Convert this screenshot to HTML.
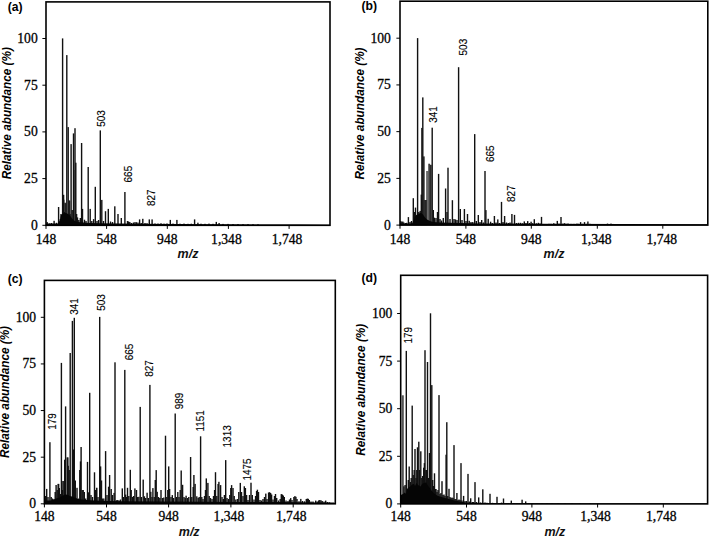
<!DOCTYPE html>
<html><head><meta charset="utf-8"><title>Mass spectra</title>
<style>
html,body{margin:0;padding:0;background:#fff;}
body{width:709px;height:538px;overflow:hidden;}
svg{display:block;}
.tk{font-family:"Liberation Serif",serif;font-size:13.6px;fill:#000;stroke:#000;stroke-width:0.3px;}
.pl{font-family:"Liberation Sans",sans-serif;font-size:12.2px;font-weight:bold;fill:#000;}
.yt{font-family:"Liberation Sans",sans-serif;font-size:13px;font-weight:bold;font-style:italic;fill:#000;}
.mz{font-family:"Liberation Sans",sans-serif;font-size:12.5px;font-weight:bold;font-style:italic;fill:#111;}
.pk{font-family:"Liberation Sans",sans-serif;font-size:10.8px;fill:#000;stroke:#000;stroke-width:0.15px;}
</style></head>
<body>
<svg width="709" height="538" viewBox="0 0 709 538">
<rect width="709" height="538" fill="#fff"/>
<rect x="63.10" y="199.7" width="1.6" height="25.6" fill="#777"/>
<rect x="64.90" y="203.4" width="1.4" height="21.9" fill="#666"/>
<rect x="68.70" y="200.5" width="1.8" height="24.8" fill="#888"/>
<rect x="74.30" y="170.0" width="1.0" height="55.3" fill="#999"/>
<rect x="46.50" y="222.1" width="1.4" height="3.2" fill="#111"/>
<rect x="48.80" y="223.5" width="1.4" height="1.8" fill="#111"/>
<rect x="50.80" y="223.0" width="1.4" height="2.3" fill="#111"/>
<rect x="53.40" y="220.8" width="1.4" height="4.5" fill="#111"/>
<rect x="55.80" y="222.8" width="1.4" height="2.5" fill="#111"/>
<rect x="57.90" y="207.0" width="1.4" height="18.3" fill="#111"/>
<rect x="59.60" y="219.0" width="1.4" height="6.3" fill="#111"/>
<rect x="60.30" y="214.0" width="1.4" height="11.3" fill="#111"/>
<rect x="61.90" y="38.4" width="1.4" height="186.9" fill="#111"/>
<rect x="62.90" y="194.8" width="1.4" height="30.5" fill="#111"/>
<rect x="63.70" y="212.0" width="1.4" height="13.3" fill="#111"/>
<rect x="64.40" y="202.7" width="1.4" height="22.6" fill="#111"/>
<rect x="66.10" y="55.1" width="1.4" height="170.2" fill="#111"/>
<rect x="67.50" y="127.1" width="1.4" height="98.2" fill="#111"/>
<rect x="68.50" y="200.5" width="1.4" height="24.8" fill="#111"/>
<rect x="69.30" y="214.0" width="1.4" height="11.3" fill="#111"/>
<rect x="70.40" y="144.1" width="1.4" height="81.2" fill="#111"/>
<rect x="71.50" y="210.0" width="1.4" height="15.3" fill="#111"/>
<rect x="72.80" y="133.4" width="1.4" height="91.9" fill="#111"/>
<rect x="74.30" y="128.2" width="1.4" height="97.1" fill="#111"/>
<rect x="75.10" y="162.7" width="1.4" height="62.6" fill="#111"/>
<rect x="75.90" y="214.0" width="1.4" height="11.3" fill="#111"/>
<rect x="76.80" y="217.4" width="1.4" height="7.9" fill="#111"/>
<rect x="78.10" y="220.0" width="1.4" height="5.3" fill="#111"/>
<rect x="79.60" y="218.0" width="1.4" height="7.3" fill="#111"/>
<rect x="80.90" y="143.0" width="1.4" height="82.3" fill="#111"/>
<rect x="81.80" y="208.9" width="1.4" height="16.4" fill="#111"/>
<rect x="83.80" y="219.7" width="1.4" height="5.6" fill="#111"/>
<rect x="85.30" y="221.0" width="1.4" height="4.3" fill="#111"/>
<rect x="87.50" y="167.0" width="1.4" height="58.3" fill="#111"/>
<rect x="89.50" y="208.9" width="1.4" height="16.4" fill="#111"/>
<rect x="91.10" y="221.0" width="1.4" height="4.3" fill="#111"/>
<rect x="92.90" y="219.1" width="1.4" height="6.2" fill="#111"/>
<rect x="94.60" y="186.8" width="1.4" height="38.5" fill="#111"/>
<rect x="96.30" y="221.0" width="1.4" height="4.3" fill="#111"/>
<rect x="97.90" y="220.0" width="1.4" height="5.3" fill="#111"/>
<rect x="99.60" y="130.4" width="1.4" height="94.9" fill="#111"/>
<rect x="101.10" y="199.9" width="1.4" height="25.4" fill="#111"/>
<rect x="102.80" y="221.0" width="1.4" height="4.3" fill="#111"/>
<rect x="104.80" y="211.2" width="1.4" height="14.1" fill="#111"/>
<rect x="107.60" y="208.9" width="1.4" height="16.4" fill="#111"/>
<rect x="109.80" y="221.5" width="1.4" height="3.8" fill="#111"/>
<rect x="111.80" y="222.0" width="1.4" height="3.3" fill="#111"/>
<rect x="114.10" y="206.3" width="1.4" height="19.0" fill="#111"/>
<rect x="117.30" y="214.0" width="1.4" height="11.3" fill="#111"/>
<rect x="120.60" y="218.0" width="1.4" height="7.3" fill="#111"/>
<rect x="124.20" y="192.0" width="1.4" height="33.3" fill="#111"/>
<rect x="126.80" y="221.0" width="1.4" height="4.3" fill="#111"/>
<rect x="127.80" y="221.5" width="1.4" height="3.8" fill="#111"/>
<rect x="129.10" y="222.0" width="1.4" height="3.3" fill="#111"/>
<rect x="130.80" y="223.0" width="1.4" height="2.3" fill="#111"/>
<rect x="132.80" y="222.5" width="1.4" height="2.8" fill="#111"/>
<rect x="134.30" y="222.1" width="1.4" height="3.2" fill="#111"/>
<rect x="135.80" y="222.2" width="1.4" height="3.1" fill="#111"/>
<rect x="137.30" y="222.6" width="1.4" height="2.7" fill="#111"/>
<rect x="138.90" y="219.4" width="1.4" height="5.9" fill="#111"/>
<rect x="140.50" y="223.0" width="1.4" height="2.3" fill="#111"/>
<rect x="142.10" y="218.8" width="1.4" height="6.5" fill="#111"/>
<rect x="144.30" y="223.0" width="1.4" height="2.3" fill="#111"/>
<rect x="146.30" y="223.2" width="1.4" height="2.1" fill="#111"/>
<rect x="148.60" y="219.4" width="1.4" height="5.9" fill="#111"/>
<rect x="151.40" y="219.4" width="1.4" height="5.9" fill="#111"/>
<rect x="154.30" y="223.5" width="1.4" height="1.8" fill="#111"/>
<rect x="157.30" y="223.6" width="1.4" height="1.7" fill="#111"/>
<rect x="160.30" y="223.3" width="1.4" height="2.0" fill="#111"/>
<rect x="163.30" y="223.7" width="1.4" height="1.6" fill="#111"/>
<rect x="166.30" y="223.5" width="1.4" height="1.8" fill="#111"/>
<rect x="169.60" y="219.9" width="1.4" height="5.4" fill="#111"/>
<rect x="172.30" y="223.6" width="1.4" height="1.7" fill="#111"/>
<rect x="176.20" y="219.9" width="1.4" height="5.4" fill="#111"/>
<rect x="179.30" y="223.7" width="1.4" height="1.6" fill="#111"/>
<rect x="183.30" y="223.6" width="1.4" height="1.7" fill="#111"/>
<rect x="187.30" y="223.8" width="1.4" height="1.5" fill="#111"/>
<rect x="190.60" y="223.7" width="1.4" height="1.6" fill="#111"/>
<rect x="193.90" y="219.4" width="1.4" height="5.9" fill="#111"/>
<rect x="197.20" y="222.7" width="1.4" height="2.6" fill="#111"/>
<rect x="200.30" y="223.7" width="1.4" height="1.6" fill="#111"/>
<rect x="204.30" y="223.8" width="1.4" height="1.5" fill="#111"/>
<rect x="208.30" y="223.6" width="1.4" height="1.7" fill="#111"/>
<rect x="212.30" y="223.8" width="1.4" height="1.5" fill="#111"/>
<rect x="215.60" y="221.9" width="1.4" height="3.4" fill="#111"/>
<rect x="218.40" y="223.0" width="1.4" height="2.3" fill="#111"/>
<rect x="222.30" y="223.9" width="1.4" height="1.4" fill="#111"/>
<rect x="227.30" y="223.9" width="1.4" height="1.4" fill="#111"/>
<rect x="232.30" y="224.0" width="1.4" height="1.3" fill="#111"/>
<rect x="237.30" y="224.0" width="1.4" height="1.3" fill="#111"/>
<rect x="242.30" y="224.1" width="1.4" height="1.2" fill="#111"/>
<rect x="247.30" y="224.1" width="1.4" height="1.2" fill="#111"/>
<rect x="252.30" y="224.2" width="1.4" height="1.1" fill="#111"/>
<rect x="257.30" y="224.3" width="1.4" height="1.0" fill="#111"/>
<polygon fill="#050505" points="46.0,225.3 46.0,223.6 58.0,223.4 60.0,220.0 61.0,215.0 63.0,213.5 66.0,213.0 68.0,214.0 70.0,215.5 72.0,218.5 74.0,220.5 76.0,221.5 80.0,222.3 90.0,223.0 100.0,223.2 120.0,223.5 140.0,223.8 180.0,224.1 260.0,224.4 300.0,224.6 330.0,224.7 330.0,225.3"/>
<rect x="46.00" y="1.90" width="284.00" height="223.40" fill="none" stroke="#000" stroke-width="1.6"/>
<line x1="42.4" y1="225.30" x2="46.0" y2="225.30" stroke="#000" stroke-width="1"/>
<text x="37.7" y="229.70" class="tk" text-anchor="end">0</text>
<line x1="42.4" y1="178.60" x2="46.0" y2="178.60" stroke="#000" stroke-width="1"/>
<text x="37.7" y="183.00" class="tk" text-anchor="end">25</text>
<line x1="42.4" y1="131.90" x2="46.0" y2="131.90" stroke="#000" stroke-width="1"/>
<text x="37.7" y="136.30" class="tk" text-anchor="end">50</text>
<line x1="42.4" y1="85.20" x2="46.0" y2="85.20" stroke="#000" stroke-width="1"/>
<text x="37.7" y="89.60" class="tk" text-anchor="end">75</text>
<line x1="42.4" y1="38.50" x2="46.0" y2="38.50" stroke="#000" stroke-width="1"/>
<text x="37.7" y="42.90" class="tk" text-anchor="end">100</text>
<line x1="46.0" y1="225.3" x2="46.0" y2="228.9" stroke="#000" stroke-width="1"/>
<text x="46.0" y="243.6" class="tk" text-anchor="middle">148</text>
<line x1="106.6" y1="225.3" x2="106.6" y2="228.9" stroke="#000" stroke-width="1"/>
<text x="106.6" y="243.6" class="tk" text-anchor="middle">548</text>
<line x1="167.3" y1="225.3" x2="167.3" y2="228.9" stroke="#000" stroke-width="1"/>
<text x="167.3" y="243.6" class="tk" text-anchor="middle">948</text>
<line x1="228.4" y1="225.3" x2="228.4" y2="228.9" stroke="#000" stroke-width="1"/>
<text x="226.4" y="243.6" class="tk" text-anchor="middle">1,348</text>
<line x1="289.1" y1="225.3" x2="289.1" y2="228.9" stroke="#000" stroke-width="1"/>
<text x="287.1" y="243.6" class="tk" text-anchor="middle">1,748</text>
<text x="7.7" y="10.5" class="pl">(a)</text>
<text transform="translate(11.1,113.2) rotate(-90) scale(0.906,1)" class="yt" text-anchor="middle">Relative abundance (%)</text>
<text x="188.0" y="257.5" class="mz" text-anchor="middle">m/z</text>
<text transform="translate(104.7,126.8) rotate(-90) scale(0.92,1)" class="pk">503</text>
<text transform="translate(131.5,182.4) rotate(-90) scale(0.92,1)" class="pk">665</text>
<text transform="translate(154.7,206.1) rotate(-90) scale(0.92,1)" class="pk">827</text>
<rect x="426.10" y="171.0" width="2.2" height="54.1" fill="#6a6a6a"/>
<rect x="429.95" y="164.8" width="1.1" height="60.3" fill="#999"/>
<rect x="400.20" y="221.1" width="1.4" height="4.0" fill="#111"/>
<rect x="401.20" y="222.0" width="1.4" height="3.1" fill="#111"/>
<rect x="402.10" y="221.5" width="1.4" height="3.6" fill="#111"/>
<rect x="403.10" y="222.5" width="1.4" height="2.6" fill="#111"/>
<rect x="404.80" y="223.0" width="1.4" height="2.1" fill="#111"/>
<rect x="406.00" y="222.8" width="1.4" height="2.3" fill="#111"/>
<rect x="407.70" y="217.1" width="1.4" height="8.0" fill="#111"/>
<rect x="409.30" y="222.0" width="1.4" height="3.1" fill="#111"/>
<rect x="410.80" y="221.0" width="1.4" height="4.1" fill="#111"/>
<rect x="412.60" y="198.2" width="1.4" height="26.9" fill="#111"/>
<rect x="413.80" y="212.0" width="1.4" height="13.1" fill="#111"/>
<rect x="414.80" y="207.6" width="1.4" height="17.5" fill="#111"/>
<rect x="415.60" y="214.9" width="1.4" height="10.2" fill="#111"/>
<rect x="416.90" y="38.1" width="1.4" height="187.0" fill="#111"/>
<rect x="418.10" y="212.0" width="1.4" height="13.1" fill="#111"/>
<rect x="419.50" y="210.9" width="1.4" height="14.2" fill="#111"/>
<rect x="420.60" y="194.6" width="1.4" height="30.5" fill="#111"/>
<rect x="421.20" y="127.9" width="1.4" height="97.2" fill="#111"/>
<rect x="422.10" y="97.4" width="1.4" height="127.7" fill="#111"/>
<rect x="423.20" y="156.4" width="1.4" height="68.7" fill="#111"/>
<rect x="424.30" y="200.0" width="1.4" height="25.1" fill="#111"/>
<rect x="425.30" y="200.0" width="1.4" height="25.1" fill="#111"/>
<rect x="428.40" y="163.7" width="1.4" height="61.4" fill="#111"/>
<rect x="430.20" y="164.8" width="1.4" height="60.3" fill="#111"/>
<rect x="431.50" y="127.7" width="1.4" height="97.4" fill="#111"/>
<rect x="432.60" y="210.0" width="1.4" height="15.1" fill="#111"/>
<rect x="433.70" y="217.7" width="1.4" height="7.4" fill="#111"/>
<rect x="435.30" y="218.0" width="1.4" height="7.1" fill="#111"/>
<rect x="436.80" y="212.0" width="1.4" height="13.1" fill="#111"/>
<rect x="437.90" y="173.9" width="1.4" height="51.2" fill="#111"/>
<rect x="439.30" y="219.0" width="1.4" height="6.1" fill="#111"/>
<rect x="440.80" y="220.5" width="1.4" height="4.6" fill="#111"/>
<rect x="442.60" y="218.0" width="1.4" height="7.1" fill="#111"/>
<rect x="444.90" y="188.5" width="1.4" height="36.6" fill="#111"/>
<rect x="446.30" y="212.0" width="1.4" height="13.1" fill="#111"/>
<rect x="447.30" y="167.7" width="1.4" height="57.4" fill="#111"/>
<rect x="449.30" y="219.0" width="1.4" height="6.1" fill="#111"/>
<rect x="451.70" y="200.2" width="1.4" height="24.9" fill="#111"/>
<rect x="453.30" y="219.0" width="1.4" height="6.1" fill="#111"/>
<rect x="454.80" y="219.4" width="1.4" height="5.7" fill="#111"/>
<rect x="456.30" y="220.0" width="1.4" height="5.1" fill="#111"/>
<rect x="457.90" y="67.2" width="1.4" height="157.9" fill="#111"/>
<rect x="459.60" y="209.0" width="1.4" height="16.1" fill="#111"/>
<rect x="461.30" y="220.0" width="1.4" height="5.1" fill="#111"/>
<rect x="463.70" y="209.0" width="1.4" height="16.1" fill="#111"/>
<rect x="465.30" y="221.0" width="1.4" height="4.1" fill="#111"/>
<rect x="466.80" y="214.0" width="1.4" height="11.1" fill="#111"/>
<rect x="468.50" y="220.8" width="1.4" height="4.3" fill="#111"/>
<rect x="470.30" y="222.0" width="1.4" height="3.1" fill="#111"/>
<rect x="472.10" y="222.0" width="1.4" height="3.1" fill="#111"/>
<rect x="474.00" y="134.1" width="1.4" height="91.0" fill="#111"/>
<rect x="475.60" y="221.0" width="1.4" height="4.1" fill="#111"/>
<rect x="477.60" y="215.0" width="1.4" height="10.1" fill="#111"/>
<rect x="479.30" y="222.0" width="1.4" height="3.1" fill="#111"/>
<rect x="481.00" y="220.0" width="1.4" height="5.1" fill="#111"/>
<rect x="482.70" y="222.5" width="1.4" height="2.6" fill="#111"/>
<rect x="484.30" y="171.0" width="1.4" height="54.1" fill="#111"/>
<rect x="485.20" y="210.1" width="1.4" height="15.0" fill="#111"/>
<rect x="487.50" y="218.8" width="1.4" height="6.3" fill="#111"/>
<rect x="489.90" y="221.7" width="1.4" height="3.4" fill="#111"/>
<rect x="491.60" y="223.0" width="1.4" height="2.1" fill="#111"/>
<rect x="493.70" y="216.0" width="1.4" height="9.1" fill="#111"/>
<rect x="495.30" y="222.5" width="1.4" height="2.6" fill="#111"/>
<rect x="497.10" y="219.4" width="1.4" height="5.7" fill="#111"/>
<rect x="498.80" y="223.0" width="1.4" height="2.1" fill="#111"/>
<rect x="500.80" y="201.9" width="1.4" height="23.2" fill="#111"/>
<rect x="502.30" y="222.0" width="1.4" height="3.1" fill="#111"/>
<rect x="503.90" y="216.0" width="1.4" height="9.1" fill="#111"/>
<rect x="505.80" y="222.5" width="1.4" height="2.6" fill="#111"/>
<rect x="507.80" y="223.0" width="1.4" height="2.1" fill="#111"/>
<rect x="509.30" y="222.5" width="1.4" height="2.6" fill="#111"/>
<rect x="511.20" y="214.0" width="1.4" height="11.1" fill="#111"/>
<rect x="513.80" y="214.9" width="1.4" height="10.2" fill="#111"/>
<rect x="515.80" y="223.0" width="1.4" height="2.1" fill="#111"/>
<rect x="517.80" y="222.8" width="1.4" height="2.3" fill="#111"/>
<rect x="519.80" y="222.8" width="1.4" height="2.3" fill="#111"/>
<rect x="521.80" y="223.3" width="1.4" height="1.8" fill="#111"/>
<rect x="523.60" y="221.4" width="1.4" height="3.7" fill="#111"/>
<rect x="525.30" y="223.0" width="1.4" height="2.1" fill="#111"/>
<rect x="527.00" y="221.1" width="1.4" height="4.0" fill="#111"/>
<rect x="528.80" y="223.0" width="1.4" height="2.1" fill="#111"/>
<rect x="530.40" y="221.7" width="1.4" height="3.4" fill="#111"/>
<rect x="531.90" y="223.2" width="1.4" height="1.9" fill="#111"/>
<rect x="533.60" y="219.2" width="1.4" height="5.9" fill="#111"/>
<rect x="535.60" y="223.3" width="1.4" height="1.8" fill="#111"/>
<rect x="537.60" y="222.8" width="1.4" height="2.3" fill="#111"/>
<rect x="539.30" y="223.4" width="1.4" height="1.7" fill="#111"/>
<rect x="540.80" y="216.9" width="1.4" height="8.2" fill="#111"/>
<rect x="543.30" y="224.0" width="1.4" height="1.1" fill="#111"/>
<rect x="545.80" y="224.0" width="1.4" height="1.1" fill="#111"/>
<rect x="548.30" y="223.8" width="1.4" height="1.3" fill="#111"/>
<rect x="550.30" y="223.8" width="1.4" height="1.3" fill="#111"/>
<rect x="553.10" y="223.2" width="1.4" height="1.9" fill="#111"/>
<rect x="554.80" y="223.9" width="1.4" height="1.2" fill="#111"/>
<rect x="556.60" y="220.9" width="1.4" height="4.2" fill="#111"/>
<rect x="558.30" y="223.6" width="1.4" height="1.5" fill="#111"/>
<rect x="560.30" y="217.0" width="1.4" height="8.1" fill="#111"/>
<rect x="562.30" y="223.6" width="1.4" height="1.5" fill="#111"/>
<rect x="563.90" y="223.2" width="1.4" height="1.9" fill="#111"/>
<rect x="565.60" y="223.8" width="1.4" height="1.3" fill="#111"/>
<rect x="567.30" y="223.5" width="1.4" height="1.6" fill="#111"/>
<rect x="570.30" y="223.9" width="1.4" height="1.2" fill="#111"/>
<rect x="573.30" y="223.9" width="1.4" height="1.2" fill="#111"/>
<rect x="576.30" y="223.6" width="1.4" height="1.5" fill="#111"/>
<rect x="578.00" y="223.8" width="1.4" height="1.3" fill="#111"/>
<rect x="579.90" y="222.1" width="1.4" height="3.0" fill="#111"/>
<rect x="581.80" y="223.8" width="1.4" height="1.3" fill="#111"/>
<rect x="583.80" y="222.1" width="1.4" height="3.0" fill="#111"/>
<rect x="585.50" y="223.8" width="1.4" height="1.3" fill="#111"/>
<rect x="587.20" y="221.5" width="1.4" height="3.6" fill="#111"/>
<rect x="589.30" y="223.8" width="1.4" height="1.3" fill="#111"/>
<rect x="592.30" y="224.0" width="1.4" height="1.1" fill="#111"/>
<rect x="596.30" y="224.0" width="1.4" height="1.1" fill="#111"/>
<rect x="600.30" y="224.0" width="1.4" height="1.1" fill="#111"/>
<rect x="603.30" y="224.0" width="1.4" height="1.1" fill="#111"/>
<rect x="606.80" y="223.6" width="1.4" height="1.5" fill="#111"/>
<rect x="610.30" y="223.6" width="1.4" height="1.5" fill="#111"/>
<rect x="614.30" y="224.0" width="1.4" height="1.1" fill="#111"/>
<rect x="619.30" y="224.1" width="1.4" height="1.0" fill="#111"/>
<rect x="624.30" y="224.1" width="1.4" height="1.0" fill="#111"/>
<rect x="629.30" y="224.2" width="1.4" height="0.9" fill="#111"/>
<rect x="639.30" y="224.3" width="1.4" height="0.8" fill="#111"/>
<polygon fill="#050505" points="400.0,225.1 400.0,223.5 412.0,223.5 413.5,221.0 415.0,216.5 417.0,215.5 419.0,213.5 421.0,213.0 423.0,214.5 425.0,217.5 427.0,219.5 430.0,221.0 433.0,222.0 440.0,222.5 460.0,223.0 480.0,223.4 540.0,223.8 707.0,224.3 707.0,225.1"/>
<rect x="400.00" y="1.20" width="307.80" height="223.90" fill="none" stroke="#000" stroke-width="1.6"/>
<line x1="396.4" y1="225.10" x2="400.0" y2="225.10" stroke="#000" stroke-width="1"/>
<text x="390.9" y="229.50" class="tk" text-anchor="end">0</text>
<line x1="396.4" y1="178.38" x2="400.0" y2="178.38" stroke="#000" stroke-width="1"/>
<text x="390.9" y="182.78" class="tk" text-anchor="end">25</text>
<line x1="396.4" y1="131.65" x2="400.0" y2="131.65" stroke="#000" stroke-width="1"/>
<text x="390.9" y="136.05" class="tk" text-anchor="end">50</text>
<line x1="396.4" y1="84.93" x2="400.0" y2="84.93" stroke="#000" stroke-width="1"/>
<text x="390.9" y="89.33" class="tk" text-anchor="end">75</text>
<line x1="396.4" y1="38.20" x2="400.0" y2="38.20" stroke="#000" stroke-width="1"/>
<text x="390.9" y="42.60" class="tk" text-anchor="end">100</text>
<line x1="400.0" y1="225.1" x2="400.0" y2="228.7" stroke="#000" stroke-width="1"/>
<text x="400.0" y="243.6" class="tk" text-anchor="middle">148</text>
<line x1="465.9" y1="225.1" x2="465.9" y2="228.7" stroke="#000" stroke-width="1"/>
<text x="465.9" y="243.6" class="tk" text-anchor="middle">548</text>
<line x1="531.3" y1="225.1" x2="531.3" y2="228.7" stroke="#000" stroke-width="1"/>
<text x="531.3" y="243.6" class="tk" text-anchor="middle">948</text>
<line x1="597.3" y1="225.1" x2="597.3" y2="228.7" stroke="#000" stroke-width="1"/>
<text x="596.3" y="243.6" class="tk" text-anchor="middle">1,348</text>
<line x1="662.8" y1="225.1" x2="662.8" y2="228.7" stroke="#000" stroke-width="1"/>
<text x="661.8" y="243.6" class="tk" text-anchor="middle">1,748</text>
<text x="361.4" y="10.0" class="pl">(b)</text>
<text transform="translate(364.4,113.5) rotate(-90) scale(0.906,1)" class="yt" text-anchor="middle">Relative abundance (%)</text>
<text x="554.0" y="257.5" class="mz" text-anchor="middle">m/z</text>
<text transform="translate(436.7,122.8) rotate(-90) scale(0.92,1)" class="pk">341</text>
<text transform="translate(467.4,55.4) rotate(-90) scale(0.92,1)" class="pk">503</text>
<text transform="translate(493.5,162.0) rotate(-90) scale(0.92,1)" class="pk">665</text>
<text transform="translate(515.3,201.9) rotate(-90) scale(0.92,1)" class="pk">827</text>
<rect x="57.20" y="483.9" width="2.4" height="19.9" fill="#888"/>
<rect x="62.20" y="481.0" width="2.0" height="22.8" fill="#888"/>
<rect x="66.30" y="457.4" width="2.6" height="46.4" fill="#888"/>
<rect x="95.90" y="487.8" width="1.6" height="16.0" fill="#999"/>
<rect x="72.40" y="470.0" width="1.0" height="33.8" fill="#888"/>
<rect x="45.00" y="496.0" width="1.4" height="7.8" fill="#111"/>
<rect x="46.00" y="488.9" width="1.4" height="14.9" fill="#111"/>
<rect x="47.30" y="497.0" width="1.4" height="6.8" fill="#111"/>
<rect x="49.20" y="442.2" width="1.4" height="61.6" fill="#111"/>
<rect x="50.50" y="497.0" width="1.4" height="6.8" fill="#111"/>
<rect x="51.80" y="498.5" width="1.4" height="5.3" fill="#111"/>
<rect x="53.30" y="499.0" width="1.4" height="4.8" fill="#111"/>
<rect x="54.50" y="492.0" width="1.4" height="11.8" fill="#111"/>
<rect x="55.40" y="485.0" width="1.4" height="18.8" fill="#111"/>
<rect x="56.50" y="490.0" width="1.4" height="13.8" fill="#111"/>
<rect x="57.70" y="483.9" width="1.4" height="19.9" fill="#111"/>
<rect x="58.60" y="488.0" width="1.4" height="15.8" fill="#111"/>
<rect x="59.60" y="494.0" width="1.4" height="9.8" fill="#111"/>
<rect x="60.70" y="362.9" width="1.4" height="140.9" fill="#111"/>
<rect x="61.60" y="490.0" width="1.4" height="13.8" fill="#111"/>
<rect x="62.40" y="481.0" width="1.4" height="22.8" fill="#111"/>
<rect x="64.00" y="459.7" width="1.4" height="44.1" fill="#111"/>
<rect x="64.90" y="406.4" width="1.4" height="97.4" fill="#111"/>
<rect x="66.80" y="457.4" width="1.4" height="46.4" fill="#111"/>
<rect x="67.50" y="465.8" width="1.4" height="38.0" fill="#111"/>
<rect x="68.50" y="470.0" width="1.4" height="33.8" fill="#111"/>
<rect x="69.50" y="353.0" width="1.4" height="150.8" fill="#111"/>
<rect x="71.70" y="320.9" width="1.4" height="182.9" fill="#111"/>
<rect x="72.90" y="449.5" width="1.4" height="54.3" fill="#111"/>
<rect x="73.60" y="317.8" width="1.4" height="186.0" fill="#111"/>
<rect x="74.60" y="480.5" width="1.4" height="23.3" fill="#111"/>
<rect x="76.30" y="487.8" width="1.4" height="16.0" fill="#111"/>
<rect x="78.00" y="498.5" width="1.4" height="5.3" fill="#111"/>
<rect x="79.10" y="470.0" width="1.4" height="33.8" fill="#111"/>
<rect x="79.80" y="461.4" width="1.4" height="42.4" fill="#111"/>
<rect x="80.40" y="447.0" width="1.4" height="56.8" fill="#111"/>
<rect x="81.50" y="490.0" width="1.4" height="13.8" fill="#111"/>
<rect x="82.50" y="490.0" width="1.4" height="13.8" fill="#111"/>
<rect x="83.60" y="492.0" width="1.4" height="11.8" fill="#111"/>
<rect x="85.00" y="498.5" width="1.4" height="5.3" fill="#111"/>
<rect x="86.80" y="461.9" width="1.4" height="41.9" fill="#111"/>
<rect x="87.90" y="492.3" width="1.4" height="11.5" fill="#111"/>
<rect x="89.00" y="392.8" width="1.4" height="111.0" fill="#111"/>
<rect x="90.30" y="495.0" width="1.4" height="8.8" fill="#111"/>
<rect x="91.80" y="497.0" width="1.4" height="6.8" fill="#111"/>
<rect x="93.80" y="472.3" width="1.4" height="31.5" fill="#111"/>
<rect x="94.90" y="490.0" width="1.4" height="13.8" fill="#111"/>
<rect x="96.00" y="487.8" width="1.4" height="16.0" fill="#111"/>
<rect x="97.30" y="497.0" width="1.4" height="6.8" fill="#111"/>
<rect x="99.00" y="316.9" width="1.4" height="186.9" fill="#111"/>
<rect x="99.90" y="466.4" width="1.4" height="37.4" fill="#111"/>
<rect x="100.80" y="480.5" width="1.4" height="23.3" fill="#111"/>
<rect x="101.80" y="498.5" width="1.4" height="5.3" fill="#111"/>
<rect x="103.10" y="498.5" width="1.4" height="5.3" fill="#111"/>
<rect x="104.90" y="451.1" width="1.4" height="52.7" fill="#111"/>
<rect x="106.30" y="495.0" width="1.4" height="8.8" fill="#111"/>
<rect x="107.90" y="486.7" width="1.4" height="17.1" fill="#111"/>
<rect x="108.90" y="475.0" width="1.4" height="28.8" fill="#111"/>
<rect x="110.50" y="489.0" width="1.4" height="14.8" fill="#111"/>
<rect x="111.80" y="495.0" width="1.4" height="8.8" fill="#111"/>
<rect x="113.40" y="492.9" width="1.4" height="10.9" fill="#111"/>
<rect x="114.30" y="362.3" width="1.4" height="141.5" fill="#111"/>
<rect x="115.80" y="500.2" width="1.4" height="3.6" fill="#111"/>
<rect x="117.10" y="500.0" width="1.4" height="3.8" fill="#111"/>
<rect x="118.50" y="500.5" width="1.4" height="3.3" fill="#111"/>
<rect x="119.80" y="499.5" width="1.4" height="4.3" fill="#111"/>
<rect x="121.60" y="488.4" width="1.4" height="15.4" fill="#111"/>
<rect x="122.70" y="497.0" width="1.4" height="6.8" fill="#111"/>
<rect x="124.10" y="369.9" width="1.4" height="133.9" fill="#111"/>
<rect x="124.90" y="494.6" width="1.4" height="9.2" fill="#111"/>
<rect x="125.90" y="497.0" width="1.4" height="6.8" fill="#111"/>
<rect x="126.80" y="487.8" width="1.4" height="16.0" fill="#111"/>
<rect x="128.10" y="496.0" width="1.4" height="7.8" fill="#111"/>
<rect x="129.60" y="469.8" width="1.4" height="34.0" fill="#111"/>
<rect x="130.50" y="490.0" width="1.4" height="13.8" fill="#111"/>
<rect x="131.80" y="497.0" width="1.4" height="6.8" fill="#111"/>
<rect x="132.90" y="496.0" width="1.4" height="7.8" fill="#111"/>
<rect x="134.20" y="488.4" width="1.4" height="15.4" fill="#111"/>
<rect x="135.80" y="490.0" width="1.4" height="13.8" fill="#111"/>
<rect x="137.00" y="497.0" width="1.4" height="6.8" fill="#111"/>
<rect x="138.20" y="496.8" width="1.4" height="7.0" fill="#111"/>
<rect x="139.50" y="406.9" width="1.4" height="96.9" fill="#111"/>
<rect x="140.80" y="497.0" width="1.4" height="6.8" fill="#111"/>
<rect x="142.50" y="479.6" width="1.4" height="24.2" fill="#111"/>
<rect x="143.70" y="496.3" width="1.4" height="7.5" fill="#111"/>
<rect x="145.00" y="498.0" width="1.4" height="5.8" fill="#111"/>
<rect x="146.40" y="492.7" width="1.4" height="11.1" fill="#111"/>
<rect x="147.60" y="498.0" width="1.4" height="5.8" fill="#111"/>
<rect x="149.20" y="384.9" width="1.4" height="118.9" fill="#111"/>
<rect x="150.10" y="491.8" width="1.4" height="12.0" fill="#111"/>
<rect x="151.30" y="497.0" width="1.4" height="6.8" fill="#111"/>
<rect x="152.20" y="488.1" width="1.4" height="15.7" fill="#111"/>
<rect x="153.50" y="497.0" width="1.4" height="6.8" fill="#111"/>
<rect x="154.60" y="480.0" width="1.4" height="23.8" fill="#111"/>
<rect x="155.50" y="470.1" width="1.4" height="33.7" fill="#111"/>
<rect x="156.50" y="491.8" width="1.4" height="12.0" fill="#111"/>
<rect x="157.80" y="497.0" width="1.4" height="6.8" fill="#111"/>
<rect x="159.10" y="498.0" width="1.4" height="5.8" fill="#111"/>
<rect x="160.30" y="490.0" width="1.4" height="13.8" fill="#111"/>
<rect x="161.80" y="498.0" width="1.4" height="5.8" fill="#111"/>
<rect x="163.10" y="497.5" width="1.4" height="6.3" fill="#111"/>
<rect x="164.80" y="435.7" width="1.4" height="68.1" fill="#111"/>
<rect x="166.10" y="497.0" width="1.4" height="6.8" fill="#111"/>
<rect x="167.10" y="490.0" width="1.4" height="13.8" fill="#111"/>
<rect x="168.00" y="466.4" width="1.4" height="37.4" fill="#111"/>
<rect x="168.90" y="489.0" width="1.4" height="14.8" fill="#111"/>
<rect x="170.30" y="497.0" width="1.4" height="6.8" fill="#111"/>
<rect x="171.60" y="495.1" width="1.4" height="8.7" fill="#111"/>
<rect x="172.90" y="498.0" width="1.4" height="5.8" fill="#111"/>
<rect x="174.50" y="413.5" width="1.4" height="90.3" fill="#111"/>
<rect x="175.80" y="497.0" width="1.4" height="6.8" fill="#111"/>
<rect x="177.10" y="492.0" width="1.4" height="11.8" fill="#111"/>
<rect x="178.30" y="497.0" width="1.4" height="6.8" fill="#111"/>
<rect x="179.50" y="490.0" width="1.4" height="13.8" fill="#111"/>
<rect x="180.50" y="470.5" width="1.4" height="33.3" fill="#111"/>
<rect x="181.90" y="484.8" width="1.4" height="19.0" fill="#111"/>
<rect x="183.30" y="497.0" width="1.4" height="6.8" fill="#111"/>
<rect x="184.50" y="498.0" width="1.4" height="5.8" fill="#111"/>
<rect x="185.40" y="495.7" width="1.4" height="8.1" fill="#111"/>
<rect x="186.80" y="498.0" width="1.4" height="5.8" fill="#111"/>
<rect x="188.10" y="497.0" width="1.4" height="6.8" fill="#111"/>
<rect x="189.90" y="457.0" width="1.4" height="46.8" fill="#111"/>
<rect x="191.10" y="497.0" width="1.4" height="6.8" fill="#111"/>
<rect x="192.50" y="487.0" width="1.4" height="16.8" fill="#111"/>
<rect x="193.20" y="475.0" width="1.4" height="28.8" fill="#111"/>
<rect x="194.40" y="483.9" width="1.4" height="19.9" fill="#111"/>
<rect x="196.10" y="496.3" width="1.4" height="7.5" fill="#111"/>
<rect x="197.50" y="498.0" width="1.4" height="5.8" fill="#111"/>
<rect x="198.50" y="497.0" width="1.4" height="6.8" fill="#111"/>
<rect x="199.90" y="436.3" width="1.4" height="67.5" fill="#111"/>
<rect x="201.10" y="497.0" width="1.4" height="6.8" fill="#111"/>
<rect x="202.30" y="499.0" width="1.4" height="4.8" fill="#111"/>
<rect x="203.80" y="496.0" width="1.4" height="7.8" fill="#111"/>
<rect x="204.80" y="490.0" width="1.4" height="13.8" fill="#111"/>
<rect x="205.60" y="478.4" width="1.4" height="25.4" fill="#111"/>
<rect x="207.20" y="482.9" width="1.4" height="20.9" fill="#111"/>
<rect x="208.50" y="496.0" width="1.4" height="7.8" fill="#111"/>
<rect x="209.80" y="498.0" width="1.4" height="5.8" fill="#111"/>
<rect x="211.30" y="499.0" width="1.4" height="4.8" fill="#111"/>
<rect x="212.80" y="496.0" width="1.4" height="7.8" fill="#111"/>
<rect x="213.90" y="490.0" width="1.4" height="13.8" fill="#111"/>
<rect x="214.80" y="472.2" width="1.4" height="31.6" fill="#111"/>
<rect x="216.10" y="496.0" width="1.4" height="7.8" fill="#111"/>
<rect x="217.40" y="484.0" width="1.4" height="19.8" fill="#111"/>
<rect x="218.20" y="481.8" width="1.4" height="22.0" fill="#111"/>
<rect x="219.90" y="485.1" width="1.4" height="18.7" fill="#111"/>
<rect x="221.30" y="497.0" width="1.4" height="6.8" fill="#111"/>
<rect x="222.60" y="499.0" width="1.4" height="4.8" fill="#111"/>
<rect x="223.70" y="495.0" width="1.4" height="8.8" fill="#111"/>
<rect x="225.00" y="460.1" width="1.4" height="43.7" fill="#111"/>
<rect x="226.30" y="498.0" width="1.4" height="5.8" fill="#111"/>
<rect x="227.80" y="499.0" width="1.4" height="4.8" fill="#111"/>
<rect x="229.10" y="495.0" width="1.4" height="8.8" fill="#111"/>
<rect x="230.10" y="488.0" width="1.4" height="15.8" fill="#111"/>
<rect x="230.90" y="485.1" width="1.4" height="18.7" fill="#111"/>
<rect x="232.30" y="488.0" width="1.4" height="15.8" fill="#111"/>
<rect x="233.50" y="496.0" width="1.4" height="7.8" fill="#111"/>
<rect x="235.10" y="499.5" width="1.4" height="4.3" fill="#111"/>
<rect x="236.70" y="499.0" width="1.4" height="4.8" fill="#111"/>
<rect x="238.10" y="492.0" width="1.4" height="11.8" fill="#111"/>
<rect x="239.60" y="482.9" width="1.4" height="20.9" fill="#111"/>
<rect x="240.80" y="492.0" width="1.4" height="11.8" fill="#111"/>
<rect x="242.30" y="496.0" width="1.4" height="7.8" fill="#111"/>
<rect x="243.60" y="486.3" width="1.4" height="17.5" fill="#111"/>
<rect x="244.70" y="488.0" width="1.4" height="15.8" fill="#111"/>
<rect x="245.90" y="495.0" width="1.4" height="8.8" fill="#111"/>
<rect x="247.30" y="500.0" width="1.4" height="3.8" fill="#111"/>
<rect x="248.80" y="495.0" width="1.4" height="8.8" fill="#111"/>
<rect x="250.30" y="482.7" width="1.4" height="21.1" fill="#111"/>
<rect x="251.60" y="495.0" width="1.4" height="8.8" fill="#111"/>
<rect x="253.30" y="499.5" width="1.4" height="4.3" fill="#111"/>
<rect x="254.90" y="496.0" width="1.4" height="7.8" fill="#111"/>
<rect x="255.90" y="491.0" width="1.4" height="12.8" fill="#111"/>
<rect x="256.70" y="489.7" width="1.4" height="14.1" fill="#111"/>
<rect x="257.80" y="492.0" width="1.4" height="11.8" fill="#111"/>
<rect x="259.30" y="500.0" width="1.4" height="3.8" fill="#111"/>
<rect x="260.80" y="500.5" width="1.4" height="3.3" fill="#111"/>
<rect x="262.30" y="499.0" width="1.4" height="4.8" fill="#111"/>
<rect x="263.80" y="497.0" width="1.4" height="6.8" fill="#111"/>
<rect x="265.10" y="493.6" width="1.4" height="10.2" fill="#111"/>
<rect x="266.30" y="499.0" width="1.4" height="4.8" fill="#111"/>
<rect x="267.90" y="492.5" width="1.4" height="11.3" fill="#111"/>
<rect x="268.90" y="492.2" width="1.4" height="11.6" fill="#111"/>
<rect x="269.90" y="493.0" width="1.4" height="10.8" fill="#111"/>
<rect x="270.90" y="494.5" width="1.4" height="9.3" fill="#111"/>
<rect x="272.30" y="499.5" width="1.4" height="4.3" fill="#111"/>
<rect x="273.80" y="496.0" width="1.4" height="7.8" fill="#111"/>
<rect x="274.80" y="494.0" width="1.4" height="9.8" fill="#111"/>
<rect x="276.00" y="498.0" width="1.4" height="5.8" fill="#111"/>
<rect x="277.80" y="500.5" width="1.4" height="3.3" fill="#111"/>
<rect x="279.50" y="499.0" width="1.4" height="4.8" fill="#111"/>
<rect x="280.60" y="494.1" width="1.4" height="9.7" fill="#111"/>
<rect x="281.60" y="494.5" width="1.4" height="9.3" fill="#111"/>
<rect x="282.60" y="495.5" width="1.4" height="8.3" fill="#111"/>
<rect x="283.60" y="497.0" width="1.4" height="6.8" fill="#111"/>
<rect x="285.30" y="500.5" width="1.4" height="3.3" fill="#111"/>
<rect x="287.30" y="501.0" width="1.4" height="2.8" fill="#111"/>
<rect x="288.80" y="499.5" width="1.4" height="4.3" fill="#111"/>
<rect x="290.00" y="498.1" width="1.4" height="5.7" fill="#111"/>
<rect x="291.30" y="500.0" width="1.4" height="3.8" fill="#111"/>
<rect x="293.20" y="497.0" width="1.4" height="6.8" fill="#111"/>
<rect x="294.20" y="496.1" width="1.4" height="7.7" fill="#111"/>
<rect x="295.20" y="496.8" width="1.4" height="7.0" fill="#111"/>
<rect x="296.30" y="499.0" width="1.4" height="4.8" fill="#111"/>
<rect x="298.30" y="501.2" width="1.4" height="2.6" fill="#111"/>
<rect x="300.10" y="498.9" width="1.4" height="4.9" fill="#111"/>
<rect x="301.80" y="501.0" width="1.4" height="2.8" fill="#111"/>
<rect x="303.80" y="501.3" width="1.4" height="2.5" fill="#111"/>
<rect x="305.60" y="499.0" width="1.4" height="4.8" fill="#111"/>
<rect x="306.60" y="498.6" width="1.4" height="5.2" fill="#111"/>
<rect x="307.60" y="498.8" width="1.4" height="5.0" fill="#111"/>
<rect x="308.60" y="500.0" width="1.4" height="3.8" fill="#111"/>
<rect x="310.30" y="501.5" width="1.4" height="2.3" fill="#111"/>
<rect x="312.30" y="501.5" width="1.4" height="2.3" fill="#111"/>
<rect x="315.00" y="500.6" width="1.4" height="3.2" fill="#111"/>
<rect x="316.50" y="501.5" width="1.4" height="2.3" fill="#111"/>
<rect x="318.00" y="500.4" width="1.4" height="3.4" fill="#111"/>
<rect x="319.10" y="500.0" width="1.4" height="3.8" fill="#111"/>
<rect x="320.30" y="500.3" width="1.4" height="3.5" fill="#111"/>
<rect x="321.50" y="501.0" width="1.4" height="2.8" fill="#111"/>
<rect x="323.30" y="501.6" width="1.4" height="2.2" fill="#111"/>
<rect x="325.00" y="500.6" width="1.4" height="3.2" fill="#111"/>
<rect x="326.80" y="502.0" width="1.4" height="1.8" fill="#111"/>
<rect x="328.80" y="502.3" width="1.4" height="1.5" fill="#111"/>
<polygon fill="#050505" points="44.4,503.8 44.4,500.5 50.0,500.5 54.0,499.8 56.0,498.5 58.0,498.0 60.0,497.5 62.0,496.0 64.0,495.0 66.0,494.5 68.0,495.0 70.0,496.0 72.0,496.5 74.0,497.5 76.0,498.0 78.0,499.0 82.0,499.5 86.0,500.0 90.0,500.3 100.0,500.8 120.0,501.2 160.0,501.5 200.0,501.7 240.0,501.9 280.0,502.1 320.0,502.4 334.5,502.6 334.5,503.8"/>
<rect x="44.40" y="280.40" width="290.90" height="223.40" fill="none" stroke="#000" stroke-width="1.6"/>
<line x1="40.8" y1="503.80" x2="44.4" y2="503.80" stroke="#000" stroke-width="1"/>
<text x="36.1" y="508.20" class="tk" text-anchor="end">0</text>
<line x1="40.8" y1="457.18" x2="44.4" y2="457.18" stroke="#000" stroke-width="1"/>
<text x="36.1" y="461.57" class="tk" text-anchor="end">25</text>
<line x1="40.8" y1="410.55" x2="44.4" y2="410.55" stroke="#000" stroke-width="1"/>
<text x="36.1" y="414.95" class="tk" text-anchor="end">50</text>
<line x1="40.8" y1="363.93" x2="44.4" y2="363.93" stroke="#000" stroke-width="1"/>
<text x="36.1" y="368.32" class="tk" text-anchor="end">75</text>
<line x1="40.8" y1="317.30" x2="44.4" y2="317.30" stroke="#000" stroke-width="1"/>
<text x="36.1" y="321.70" class="tk" text-anchor="end">100</text>
<line x1="44.4" y1="503.8" x2="44.4" y2="507.4" stroke="#000" stroke-width="1"/>
<text x="44.4" y="521.4" class="tk" text-anchor="middle">148</text>
<line x1="106.5" y1="503.8" x2="106.5" y2="507.4" stroke="#000" stroke-width="1"/>
<text x="106.5" y="521.4" class="tk" text-anchor="middle">548</text>
<line x1="168.6" y1="503.8" x2="168.6" y2="507.4" stroke="#000" stroke-width="1"/>
<text x="168.6" y="521.4" class="tk" text-anchor="middle">948</text>
<line x1="230.9" y1="503.8" x2="230.9" y2="507.4" stroke="#000" stroke-width="1"/>
<text x="228.9" y="521.4" class="tk" text-anchor="middle">1,348</text>
<line x1="293.2" y1="503.8" x2="293.2" y2="507.4" stroke="#000" stroke-width="1"/>
<text x="291.2" y="521.4" class="tk" text-anchor="middle">1,748</text>
<text x="7.7" y="282.7" class="pl">(c)</text>
<text transform="translate(8.6,392.0) rotate(-90) scale(0.906,1)" class="yt" text-anchor="middle">Relative abundance (%)</text>
<text x="189.2" y="535.5" class="mz" text-anchor="middle">m/z</text>
<text transform="translate(55.9,429.8) rotate(-90) scale(0.92,1)" class="pk">179</text>
<text transform="translate(78.1,314.8) rotate(-90) scale(0.92,1)" class="pk">341</text>
<text transform="translate(104.9,310.7) rotate(-90) scale(0.92,1)" class="pk">503</text>
<text transform="translate(132.7,360.3) rotate(-90) scale(0.92,1)" class="pk">665</text>
<text transform="translate(152.8,376.7) rotate(-90) scale(0.92,1)" class="pk">827</text>
<text transform="translate(183.2,409.2) rotate(-90) scale(0.92,1)" class="pk">989</text>
<text transform="translate(203.7,431.6) rotate(-90) scale(0.92,1)" class="pk">1151</text>
<text transform="translate(231.4,447.4) rotate(-90) scale(0.92,1)" class="pk">1313</text>
<text transform="translate(251.1,480.6) rotate(-90) scale(0.92,1)" class="pk">1475</text>
<rect x="401.80" y="395.3" width="2.0" height="108.6" fill="#555"/>
<rect x="403.20" y="486.3" width="1.4" height="17.6" fill="#111"/>
<rect x="404.40" y="485.0" width="1.4" height="18.9" fill="#111"/>
<rect x="405.60" y="350.9" width="1.4" height="153.0" fill="#111"/>
<rect x="406.70" y="490.0" width="1.4" height="13.9" fill="#111"/>
<rect x="407.60" y="480.0" width="1.4" height="23.9" fill="#111"/>
<rect x="408.50" y="466.5" width="1.4" height="37.4" fill="#111"/>
<rect x="409.60" y="482.0" width="1.4" height="21.9" fill="#111"/>
<rect x="410.50" y="478.0" width="1.4" height="25.9" fill="#111"/>
<rect x="411.50" y="405.6" width="1.4" height="98.3" fill="#111"/>
<rect x="412.50" y="475.0" width="1.4" height="28.9" fill="#111"/>
<rect x="413.50" y="470.0" width="1.4" height="33.9" fill="#111"/>
<rect x="414.30" y="449.0" width="1.4" height="54.9" fill="#111"/>
<rect x="415.30" y="478.0" width="1.4" height="25.9" fill="#111"/>
<rect x="416.10" y="470.0" width="1.4" height="33.9" fill="#111"/>
<rect x="416.80" y="447.3" width="1.4" height="56.6" fill="#111"/>
<rect x="418.10" y="441.7" width="1.4" height="62.2" fill="#111"/>
<rect x="418.90" y="470.0" width="1.4" height="33.9" fill="#111"/>
<rect x="420.10" y="451.3" width="1.4" height="52.6" fill="#111"/>
<rect x="421.10" y="478.0" width="1.4" height="25.9" fill="#111"/>
<rect x="422.00" y="476.0" width="1.4" height="27.9" fill="#111"/>
<rect x="423.00" y="467.7" width="1.4" height="36.2" fill="#111"/>
<rect x="423.70" y="463.1" width="1.4" height="40.8" fill="#111"/>
<rect x="424.30" y="350.2" width="1.4" height="153.7" fill="#111"/>
<rect x="425.20" y="470.0" width="1.4" height="33.9" fill="#111"/>
<rect x="426.00" y="470.0" width="1.4" height="33.9" fill="#111"/>
<rect x="426.80" y="362.0" width="1.4" height="141.9" fill="#111"/>
<rect x="427.60" y="478.0" width="1.4" height="25.9" fill="#111"/>
<rect x="428.80" y="453.0" width="1.4" height="50.9" fill="#111"/>
<rect x="429.80" y="313.3" width="1.4" height="190.6" fill="#111"/>
<rect x="431.10" y="385.1" width="1.4" height="118.8" fill="#111"/>
<rect x="432.00" y="480.0" width="1.4" height="23.9" fill="#111"/>
<rect x="432.90" y="486.0" width="1.4" height="17.9" fill="#111"/>
<rect x="433.80" y="473.3" width="1.4" height="30.6" fill="#111"/>
<rect x="434.70" y="489.0" width="1.4" height="14.9" fill="#111"/>
<rect x="435.30" y="489.1" width="1.4" height="14.8" fill="#111"/>
<rect x="436.30" y="492.0" width="1.4" height="11.9" fill="#111"/>
<rect x="437.30" y="490.0" width="1.4" height="13.9" fill="#111"/>
<rect x="438.30" y="395.1" width="1.4" height="108.8" fill="#111"/>
<rect x="439.30" y="494.0" width="1.4" height="9.9" fill="#111"/>
<rect x="440.30" y="493.0" width="1.4" height="10.9" fill="#111"/>
<rect x="441.30" y="481.2" width="1.4" height="22.7" fill="#111"/>
<rect x="442.30" y="495.0" width="1.4" height="8.9" fill="#111"/>
<rect x="443.30" y="494.5" width="1.4" height="9.4" fill="#111"/>
<rect x="444.30" y="496.0" width="1.4" height="7.9" fill="#111"/>
<rect x="445.40" y="454.7" width="1.4" height="49.2" fill="#111"/>
<rect x="446.10" y="422.2" width="1.4" height="81.7" fill="#111"/>
<rect x="447.10" y="496.0" width="1.4" height="7.9" fill="#111"/>
<rect x="448.30" y="488.8" width="1.4" height="15.1" fill="#111"/>
<rect x="449.30" y="497.0" width="1.4" height="6.9" fill="#111"/>
<rect x="450.30" y="498.0" width="1.4" height="5.9" fill="#111"/>
<rect x="451.30" y="497.5" width="1.4" height="6.4" fill="#111"/>
<rect x="452.30" y="498.0" width="1.4" height="5.9" fill="#111"/>
<rect x="453.30" y="445.1" width="1.4" height="58.8" fill="#111"/>
<rect x="454.30" y="499.0" width="1.4" height="4.9" fill="#111"/>
<rect x="455.30" y="499.0" width="1.4" height="4.9" fill="#111"/>
<rect x="456.20" y="493.0" width="1.4" height="10.9" fill="#111"/>
<rect x="457.30" y="500.0" width="1.4" height="3.9" fill="#111"/>
<rect x="458.30" y="499.5" width="1.4" height="4.4" fill="#111"/>
<rect x="459.30" y="500.0" width="1.4" height="3.9" fill="#111"/>
<rect x="460.30" y="463.1" width="1.4" height="40.8" fill="#111"/>
<rect x="461.30" y="500.5" width="1.4" height="3.4" fill="#111"/>
<rect x="462.90" y="495.9" width="1.4" height="8.0" fill="#111"/>
<rect x="464.30" y="501.0" width="1.4" height="2.9" fill="#111"/>
<rect x="465.80" y="501.0" width="1.4" height="2.9" fill="#111"/>
<rect x="467.30" y="473.9" width="1.4" height="30.0" fill="#111"/>
<rect x="468.80" y="501.5" width="1.4" height="2.4" fill="#111"/>
<rect x="470.00" y="498.3" width="1.4" height="5.6" fill="#111"/>
<rect x="471.60" y="502.0" width="1.4" height="1.9" fill="#111"/>
<rect x="472.80" y="502.0" width="1.4" height="1.9" fill="#111"/>
<rect x="474.30" y="482.1" width="1.4" height="21.8" fill="#111"/>
<rect x="475.80" y="502.0" width="1.4" height="1.9" fill="#111"/>
<rect x="478.00" y="497.4" width="1.4" height="6.5" fill="#111"/>
<rect x="479.80" y="502.5" width="1.4" height="1.4" fill="#111"/>
<rect x="482.10" y="489.3" width="1.4" height="14.6" fill="#111"/>
<rect x="484.30" y="502.5" width="1.4" height="1.4" fill="#111"/>
<rect x="486.30" y="502.8" width="1.4" height="1.1" fill="#111"/>
<rect x="489.30" y="493.8" width="1.4" height="10.1" fill="#111"/>
<rect x="491.80" y="502.8" width="1.4" height="1.1" fill="#111"/>
<rect x="493.80" y="503.0" width="1.4" height="0.9" fill="#111"/>
<rect x="496.30" y="496.8" width="1.4" height="7.1" fill="#111"/>
<rect x="498.80" y="503.0" width="1.4" height="0.9" fill="#111"/>
<rect x="500.80" y="502.6" width="1.4" height="1.3" fill="#111"/>
<rect x="502.80" y="498.5" width="1.4" height="5.4" fill="#111"/>
<rect x="505.30" y="503.0" width="1.4" height="0.9" fill="#111"/>
<rect x="507.80" y="503.1" width="1.4" height="0.8" fill="#111"/>
<rect x="510.60" y="500.6" width="1.4" height="3.3" fill="#111"/>
<rect x="513.30" y="503.1" width="1.4" height="0.8" fill="#111"/>
<rect x="516.30" y="503.2" width="1.4" height="0.7" fill="#111"/>
<rect x="518.80" y="503.2" width="1.4" height="0.7" fill="#111"/>
<rect x="521.40" y="499.7" width="1.4" height="4.2" fill="#111"/>
<rect x="525.00" y="501.4" width="1.4" height="2.5" fill="#111"/>
<rect x="528.30" y="503.2" width="1.4" height="0.7" fill="#111"/>
<rect x="532.30" y="503.3" width="1.4" height="0.6" fill="#111"/>
<rect x="536.30" y="503.3" width="1.4" height="0.6" fill="#111"/>
<rect x="541.30" y="503.3" width="1.4" height="0.6" fill="#111"/>
<rect x="546.30" y="503.3" width="1.4" height="0.6" fill="#111"/>
<rect x="551.30" y="503.4" width="1.4" height="0.5" fill="#111"/>
<rect x="557.30" y="503.4" width="1.4" height="0.5" fill="#111"/>
<rect x="564.30" y="503.4" width="1.4" height="0.5" fill="#111"/>
<rect x="571.30" y="503.4" width="1.4" height="0.5" fill="#111"/>
<rect x="579.30" y="503.5" width="1.4" height="0.4" fill="#111"/>
<rect x="589.30" y="503.5" width="1.4" height="0.4" fill="#111"/>
<polygon fill="#050505" points="400.7,503.9 400.7,495.0 403.0,494.0 404.8,492.5 406.0,494.0 407.0,489.0 409.0,487.0 410.4,486.5 412.0,484.5 413.8,484.0 415.0,486.0 416.5,483.0 418.0,485.0 420.6,486.5 422.0,484.0 424.0,483.0 426.2,482.5 427.5,485.0 429.0,487.0 431.9,491.0 434.0,493.5 437.5,495.8 443.1,497.4 448.8,499.0 454.4,500.6 460.0,501.6 465.7,502.4 471.4,502.8 490.0,503.1 540.0,503.3 600.0,503.4 707.0,503.5 707.0,503.9"/>
<rect x="400.70" y="275.30" width="306.90" height="228.60" fill="none" stroke="#000" stroke-width="1.6"/>
<line x1="397.1" y1="503.90" x2="400.7" y2="503.90" stroke="#000" stroke-width="1"/>
<text x="392.4" y="508.30" class="tk" text-anchor="end">0</text>
<line x1="397.1" y1="456.30" x2="400.7" y2="456.30" stroke="#000" stroke-width="1"/>
<text x="392.4" y="460.70" class="tk" text-anchor="end">25</text>
<line x1="397.1" y1="408.70" x2="400.7" y2="408.70" stroke="#000" stroke-width="1"/>
<text x="392.4" y="413.10" class="tk" text-anchor="end">50</text>
<line x1="397.1" y1="361.10" x2="400.7" y2="361.10" stroke="#000" stroke-width="1"/>
<text x="392.4" y="365.50" class="tk" text-anchor="end">75</text>
<line x1="397.1" y1="313.50" x2="400.7" y2="313.50" stroke="#000" stroke-width="1"/>
<text x="392.4" y="317.90" class="tk" text-anchor="end">100</text>
<line x1="400.7" y1="503.9" x2="400.7" y2="507.5" stroke="#000" stroke-width="1"/>
<text x="400.7" y="521.4" class="tk" text-anchor="middle">148</text>
<line x1="466.5" y1="503.9" x2="466.5" y2="507.5" stroke="#000" stroke-width="1"/>
<text x="466.5" y="521.4" class="tk" text-anchor="middle">548</text>
<line x1="531.9" y1="503.9" x2="531.9" y2="507.5" stroke="#000" stroke-width="1"/>
<text x="531.9" y="521.4" class="tk" text-anchor="middle">948</text>
<line x1="597.6" y1="503.9" x2="597.6" y2="507.5" stroke="#000" stroke-width="1"/>
<text x="595.6" y="521.4" class="tk" text-anchor="middle">1,348</text>
<line x1="663.3" y1="503.9" x2="663.3" y2="507.5" stroke="#000" stroke-width="1"/>
<text x="661.3" y="521.4" class="tk" text-anchor="middle">1,748</text>
<text x="361.4" y="282.2" class="pl">(d)</text>
<text transform="translate(365.4,389.8) rotate(-90) scale(0.906,1)" class="yt" text-anchor="middle">Relative abundance (%)</text>
<text x="554.8" y="535.5" class="mz" text-anchor="middle">m/z</text>
<text transform="translate(412.1,343.5) rotate(-90) scale(0.92,1)" class="pk">179</text>
</svg>
</body></html>
